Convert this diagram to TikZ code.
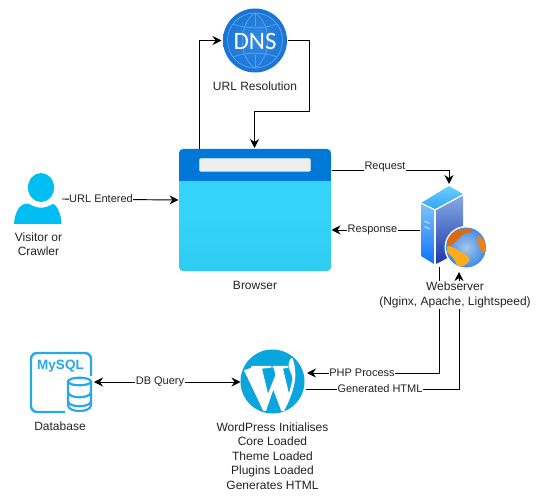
\documentclass[tikz,border=0pt]{standalone}
\usepackage{fontspec}
\setmainfont{Liberation Sans}
\newfontfamily\iconfont{Carlito}
\usetikzlibrary{arrows.meta,calc}
\definecolor{txt}{HTML}{222222}
\definecolor{wpblue}{HTML}{0AA5DC}
\definecolor{sqlblue}{HTML}{29A8E8}
\definecolor{userblue}{HTML}{00BEF2}
\definecolor{headblue}{HTML}{0078D7}
\definecolor{bodyblue}{HTML}{33D4F7}
\definecolor{bodyblueb}{HTML}{2ECCF0}
\definecolor{barfill}{HTML}{EEEEEE}
\definecolor{baredge}{HTML}{BFD8F2}
\definecolor{dnsin}{RGB}{50,138,230}
\definecolor{dnsout}{RGB}{24,116,212}
\definecolor{dnsline}{RGB}{92,160,236}
\definecolor{srvA}{RGB}{110,205,255}
\definecolor{srvB}{RGB}{50,165,245}
\definecolor{srvC}{RGB}{125,195,250}
\definecolor{srvD}{RGB}{15,115,250}
\definecolor{srvE}{RGB}{135,170,228}
\definecolor{srvF}{RGB}{25,55,170}
\definecolor{globeSea}{RGB}{50,130,235}
\definecolor{globeLight}{RGB}{165,200,228}
\definecolor{globeDark}{RGB}{222,105,15}
\definecolor{globeOrange}{RGB}{250,172,30}
\definecolor{globeMid}{RGB}{235,130,25}
\tikzset{
  label text/.style={font=\fontsize{12}{14.5}\selectfont,text=txt,align=center,inner sep=1pt},
  edge label/.style={font=\fontsize{11}{13}\selectfont,text=txt,align=center,fill=white,inner sep=0.5pt},
  conn/.style={draw=black,line width=0.95pt,-{Stealth[length=9pt,width=9pt,inset=3pt]}},
  both conn/.style={draw=black,line width=0.95pt,{Stealth[length=9pt,width=9pt,inset=3pt]}-{Stealth[length=9pt,width=9pt,inset=3pt]}},
  iconbox/.style={inner sep=0pt,outer sep=0pt,draw=none},
}
\begin{document}
\begin{tikzpicture}[x=1pt,y=-1pt]
\useasboundingbox (0,0) rectangle (543,502);

% ---- DNS icon
\node[iconbox,minimum width=64pt,minimum height=64pt] (dns) at (255,40.5) {};
\shade[inner color=dnsin,outer color=dnsout] (255,40.5) circle (32);
\begin{scope}[draw=dnsline,line width=0.8pt]
  \draw (255,40.5) circle (27.5);
  \draw (255,13) .. controls (238,24) and (238,57) .. (255,68);
  \draw (255,13) .. controls (272,24) and (272,57) .. (255,68);
  \draw (255,13) -- (255,26);
  \draw (255,55) -- (255,68);
  \draw (233,24) .. controls (245,29) and (265,29) .. (277,24);
  \draw (233,57) .. controls (245,52) and (265,52) .. (277,57);
\end{scope}
\node[font=\iconfont\fontsize{25}{25}\selectfont,text=white,inner sep=0pt] (dnstext) at (255,41) {DNS};
\node[label text] (dnslabel) at (255,86.5) {URL Resolution};

% ---- Browser
\node[iconbox,minimum width=152pt,minimum height=122pt] (browser) at (255,210) {};
\shade[top color=bodyblue,bottom color=bodyblueb,middle color=bodyblue,rounded corners=4pt] (179,165) rectangle (331,271);
\fill[headblue,rounded corners=4pt] (179,149) rectangle (331,172);
\fill[headblue] (179,165) rectangle (331,181);
\draw[baredge,fill=barfill,line width=0.5pt,rounded corners=1.5pt] (199.3,158.5) rectangle (310.7,171.5);
\node[label text] (browserlabel) at (255,285) {Browser};

% ---- Visitor
\node[iconbox,minimum width=48pt,minimum height=52pt] (user) at (38,198) {};
\fill[userblue] (41,187.5) ellipse (13 and 14.5);
\fill[userblue] (14,224) .. controls (14.5,215) and (18,206) .. (24,204)
  .. controls (28,203) and (30,204) .. (32,205.5)
  .. controls (37,208.5) and (45,208.5) .. (50,205.5)
  .. controls (52,204) and (54,203) .. (55,205)
  .. controls (59,209) and (61.5,217) .. (61.5,224) -- cycle;
\node[label text] (userlabel) at (38.5,244) {Visitor or\\Crawler};

% ---- Webserver
\node[iconbox,minimum width=64pt,minimum height=80pt] (server) at (449,227) {};
\shade[top color=srvA,bottom color=srvB]
  (449,186) -- (463,194) -- (435,209) -- (421,203) -- cycle;
\shade[top color=srvC,bottom color=srvD]
  (421,203.5) -- (434,209.5) -- (434,264) -- (421,256) -- cycle;
\shade[top color=srvE,bottom color=srvF]
  (436,210) -- (463,195) -- (463,250) -- (436,264) -- cycle;
\draw[white,line width=1pt] (421,203) -- (435,210) -- (463,195) (435,210) -- (435,264);
\draw[white!85!cyan,line width=0.8pt] (424.5,221) -- (429.5,223.5) (424.5,226.5) -- (429.5,229);
\fill[white] (466,247.5) circle (21.5);
\begin{scope}
  \clip (466,247.5) circle (20);
  \shade[inner color=globeLight,outer color=globeSea] (466,247.5) circle (22);
  \fill[globeDark] (447,240) -- (455,231) -- (470,228) -- (472,232) -- (463,234) -- (458,239) -- (455,242) -- (451,245) -- (447,247) -- cycle;
  \fill[globeOrange] (447,246) .. controls (452,246) and (456,249) .. (461,252) .. controls (466,254) and (470,259) .. (470,260) .. controls (466,266) and (461,268) .. (457,266) .. controls (456,259) and (450,255) .. (447,252) -- cycle;
  \fill[globeMid] (478,235) .. controls (484,238) and (488,245) .. (486,252) .. controls (482,254) and (479,250) .. (479,246) .. controls (478,243) and (476,240) .. (478,235) -- cycle;
\end{scope}

% ---- WordPress
\node[iconbox,minimum width=64pt,minimum height=64pt] (wp) at (272.5,381.5) {};
\fill[wpblue] (wp.center) circle (32);
\begin{scope}[shift={(238,347)},x=0.3333pt,y=-0.3333pt]
  \fill[white] (18,70) -- (40,62) -- (40,57) -- (100,57) -- (100,62) -- (72,65) -- (90,140) -- (112,85) -- (108,65) -- (104,62) -- (104,57) -- (150,57) -- (150,62) -- (135,65) -- (153,140) -- (163,100)
   .. controls (165,85) and (156,75) .. (152,62) .. controls (150,50) and (154,38) .. (162,32)
   .. controls (168,42) and (172,62) .. (172,85) .. controls (172,115) and (156,160) .. (138,192)
   -- (130,192) -- (106,128) -- (84,192) -- (76,192) -- cycle;
\end{scope}
\node[label text] (wplabel) at (272.5,456) {WordPress Initialises\\Core Loaded\\Theme Loaded\\Plugins Loaded\\Generates HTML};

% ---- MySQL
\node[iconbox,minimum width=62pt,minimum height=61pt] (mysql) at (61,382) {};
\draw[sqlblue,line width=2.4pt,rounded corners=6pt] (31,353) rectangle (91,412);
\node[font=\bfseries\fontsize{13.5}{13.5}\selectfont,text=sqlblue,inner sep=0pt] (mysqltext) at (60.5,366) {MySQL};
\fill[white] (65,376) rectangle (94,414);
\draw[sqlblue,line width=2.2pt,fill=white] (68,382) -- (68,405) .. controls (68,413) and (91,413) .. (91,405) -- (91,382);
\draw[sqlblue,line width=2.2pt,fill=white] (79.5,381.5) ellipse (11.5 and 3.8);
\draw[sqlblue,line width=2.2pt] (68,392) .. controls (68,399) and (91,399) .. (91,392);
\draw[sqlblue,line width=2.2pt] (68,401) .. controls (68,408) and (91,408) .. (91,401);
\node[label text] (mysqllabel) at (60,426.5) {Database};

% ---- connector ends
\coordinate (bTopL) at (199,149);
\coordinate (bTopM) at (254.5,148);
\coordinate (bReq) at (331.5,170);
\coordinate (bResp) at (331.5,230);
\coordinate (sTop) at (449,184);
\coordinate (sLeft) at (420,230);
\coordinate (sOut) at (439,267);
\coordinate (sIn) at (459,272);
\coordinate (wpIn) at (307,373);
\coordinate (wpOut) at (306,389.5);
\coordinate (uOut) at (62,199);
\coordinate (bIn) at (178.5,200);
\coordinate (dbR) at (94,382);
\coordinate (wpL) at (240.5,382);

% ---- connectors
\draw[conn] (bTopL) |- ($(dns.west)+(-1.5,0)$);
\draw[conn] ($(dns.east)+(1,0)$) -| (309,111) -| (bTopM);
\draw[conn] (uOut) -- (bIn);
\draw[conn] (bReq) -| (sTop);
\draw[conn] (sLeft) -- (bResp);
\draw[both conn] (dbR) -- (wpL);
\draw[conn] (sOut) |- (wpIn);
\draw[draw=black,line width=0.95pt] (wpOut) -- (306.5,389.5);
\draw[conn] (wpOut) -| (sIn);

% ---- labels over connectors
\node[label text,fill=white,inner sep=1.5pt] (serverlabel) at (455,295) {Webserver\\(Nginx, Apache, Lightspeed)};
\node[edge label] (lurl) at (101,199) {URL Entered};
\node[edge label] (lreq) at (385,166.5) {Request};
\node[edge label] (lresp) at (372.5,230) {Response};
\node[edge label] (lphp) at (362,373) {PHP Process};
\node[edge label] (lgen) at (380,389) {Generated HTML};
\node[edge label] (ldb) at (160,382) {DB Query};
\end{tikzpicture}
\end{document}
